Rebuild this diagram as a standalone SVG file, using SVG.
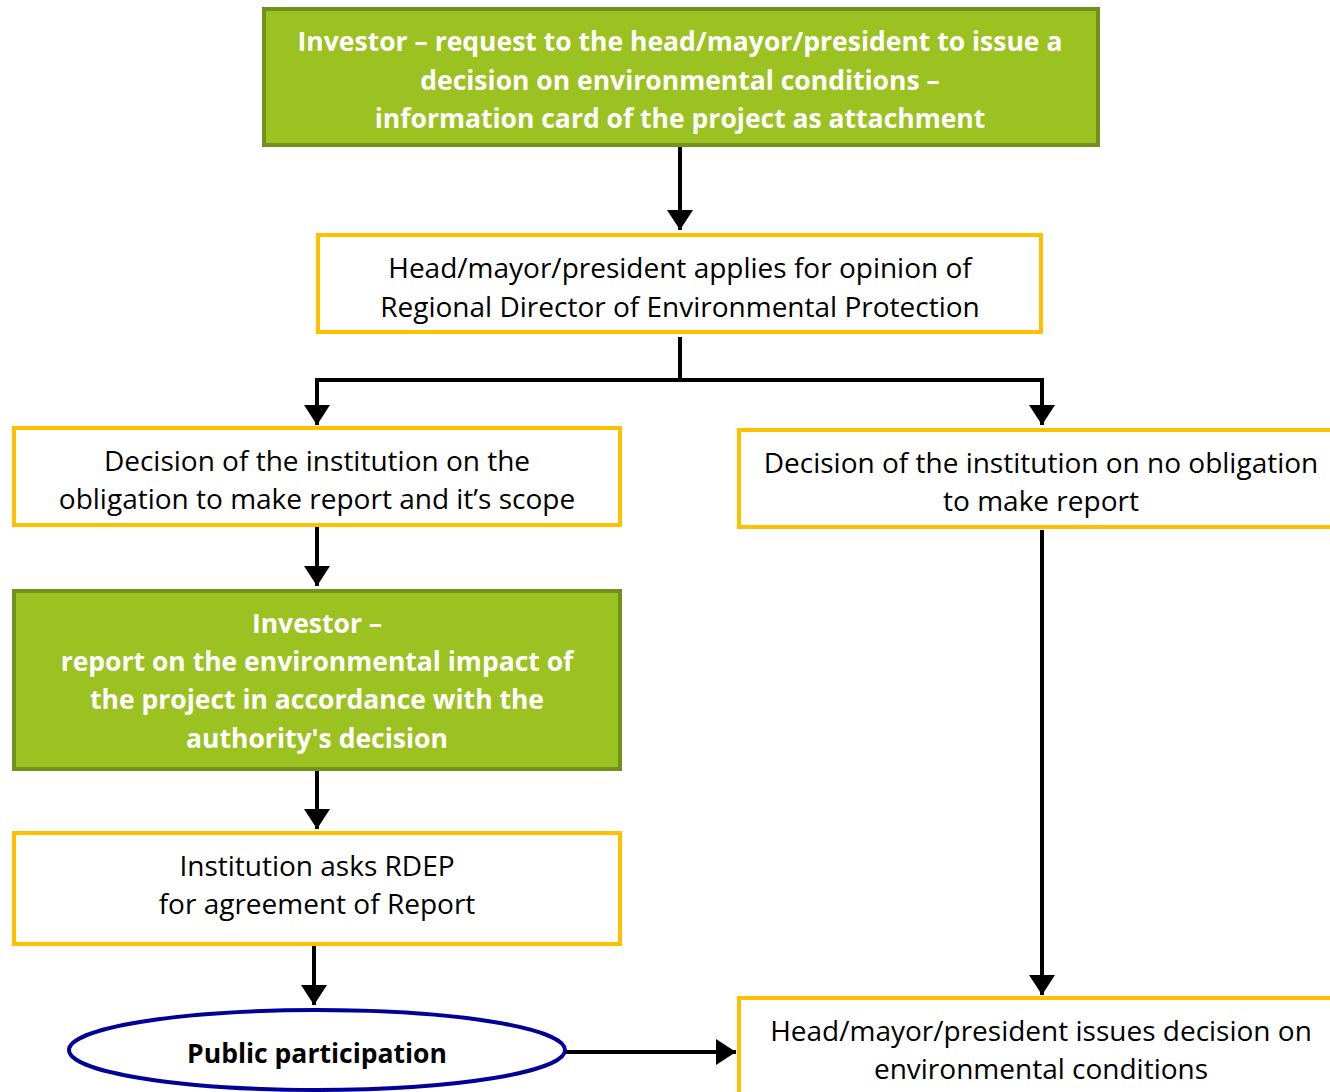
<svg xmlns="http://www.w3.org/2000/svg" width="1330" height="1092" viewBox="0 0 1330 1092">
<style>
.g{fill:#9bc221;stroke:#72911b;stroke-width:4}
.y{fill:#fff;stroke:#ffc000;stroke-width:4}
text{font-family:"Open Sans","Liberation Sans",sans-serif;font-size:28px;text-anchor:middle;dominant-baseline:central}
.w{fill:#fff;font-weight:bold;font-size:26.5px}
.k{fill:#000}
.b{font-weight:bold;font-size:26.5px}
.c{fill:none;stroke:#000;stroke-width:4}
</style>
<defs>
<marker id="ah" markerUnits="userSpaceOnUse" markerWidth="28" markerHeight="28" viewBox="0 0 28 28" refX="20" refY="14" orient="auto">
<path d="M0,1 L20,14 L0,27 Z" fill="#000"/>
</marker>
</defs>
<g id="connectors">
<line class="c" x1="680" y1="146" x2="680" y2="230" marker-end="url(#ah)"/>
<polyline class="c" points="680,337 680,380"/>
<polyline class="c" points="317,425 317,380 1042,380 1042,425" marker-end="url(#ah)"/>
<line class="c" x1="317" y1="382" x2="317" y2="425" marker-end="url(#ah)"/>
<line class="c" x1="317" y1="526" x2="317" y2="586" marker-end="url(#ah)"/>
<line class="c" x1="317" y1="770" x2="317" y2="829" marker-end="url(#ah)"/>
<line class="c" x1="314" y1="945" x2="314" y2="1005" marker-end="url(#ah)"/>
<line class="c" x1="565" y1="1052" x2="736" y2="1052" marker-end="url(#ah)"/>
<line class="c" x1="1042" y1="530" x2="1042" y2="995" marker-end="url(#ah)"/>
</g>
<g id="n1">
<rect class="g" x="264" y="9" width="834" height="136"/>
<text class="w" x="680" y="41">Investor – request to the head/mayor/president to issue a</text>
<text class="w" x="680" y="80">decision on environmental conditions –</text>
<text class="w" x="680" y="118">information card of the project as attachment</text>
</g>
<g id="n2">
<rect class="y" x="318" y="235" width="723" height="97"/>
<text class="k" x="680" y="267">Head/mayor/president applies for opinion of</text>
<text class="k" x="680" y="306">Regional Director of Environmental Protection</text>
</g>
<g id="n3">
<rect class="y" x="14" y="428" width="606" height="97"/>
<text class="k" x="317" y="460">Decision of the institution on the</text>
<text class="k" x="317" y="498">obligation to make report and it’s scope</text>
</g>
<g id="n4">
<rect class="y" x="739" y="430" width="600" height="97"/>
<text class="k" x="1041" y="462">Decision of the institution on no obligation</text>
<text class="k" x="1041" y="500">to make report</text>
</g>
<g id="n5">
<rect class="g" x="14" y="591" width="606" height="178"/>
<text class="w" x="317" y="623">Investor –</text>
<text class="w" x="317" y="661">report on the environmental impact of</text>
<text class="w" x="317" y="699">the project in accordance with the</text>
<text class="w" x="317" y="738">authority's decision</text>
</g>
<g id="n6">
<rect class="y" x="14" y="833" width="606" height="111"/>
<text class="k" x="317" y="865">Institution asks RDEP</text>
<text class="k" x="317" y="903">for agreement of Report</text>
</g>
<g id="n7">
<ellipse cx="317" cy="1050" rx="248" ry="40" fill="#fff" stroke="#000099" stroke-width="4"/>
<text class="k b" x="317" y="1053">Public participation</text>
</g>
<g id="n8">
<rect class="y" x="739" y="998" width="600" height="110"/>
<text class="k" x="1041" y="1030">Head/mayor/president issues decision on</text>
<text class="k" x="1041" y="1068">environmental conditions</text>
</g>
</svg>
